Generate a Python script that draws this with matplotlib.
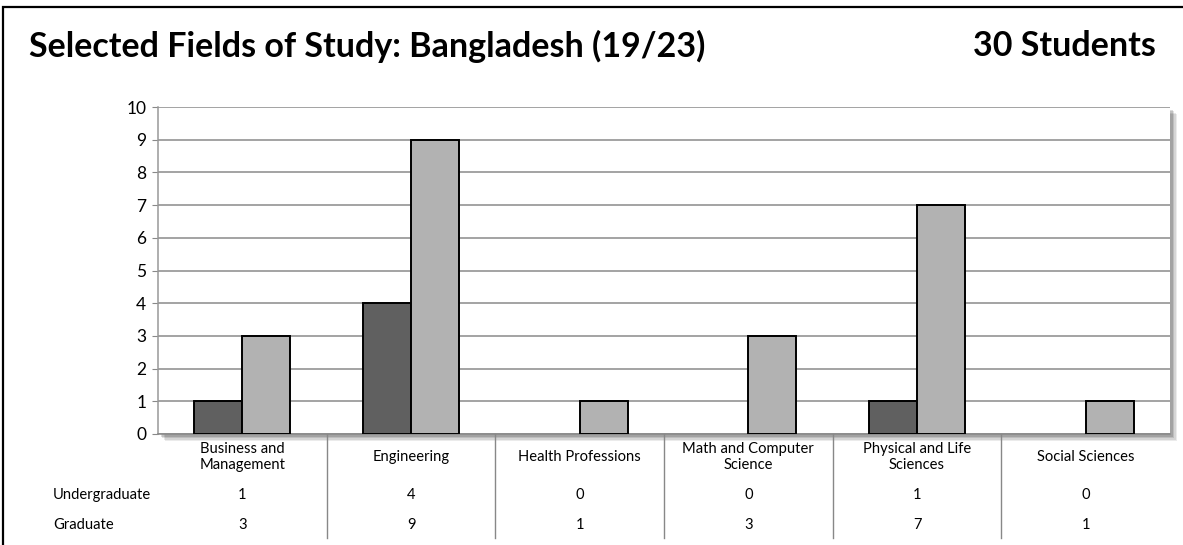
import matplotlib.pyplot as plt
from matplotlib.patches import Rectangle
from matplotlib.transforms import blended_transform_factory
import numpy as np

# данные
categories = ["Business and\nManagement", "Engineering", "Health Professions",
              "Math and Computer\nScience", "Physical and Life\nSciences", "Social Sciences"]
undergraduate = [1, 4, 0, 0, 1, 0]
graduate = [3, 9, 1, 3, 7, 1]
row_labels = ["Undergraduate", "Graduate"]
title = "Selected Fields of Study: Bangladesh (19/23)"
total_label = "30 Students"

W, H = 1183, 545
plt.rcParams['font.family'] = ['Lato', 'DejaVu Sans']

fig = plt.figure(figsize=(W / 100, H / 100), dpi=100)

# внешняя рамка
fig.patches.append(Rectangle((3 / W, -0.01), 1.02, (H - 7) / H + 0.01, transform=fig.transFigure,
                             fill=False, edgecolor='black', linewidth=1.6, zorder=0))

left, right, top, bottom = 158, 1170, 107, 434
ax = fig.add_axes([left / W, 1 - bottom / H, (right - left) / W, (bottom - top) / H])

# тень под областью построения
for k, a in enumerate([0.08, 0.09, 0.11, 0.14]):
    off = 7 - k * 1.5
    fig.patches.append(Rectangle(((left + off) / W, 1 - (bottom + off) / H),
                                 (right - left) / W, (bottom - top) / H,
                                 transform=fig.transFigure, color='black', alpha=a,
                                 linewidth=0, zorder=0.5))

x = np.arange(len(categories))
bw = 0.285
b1 = ax.bar(x - bw / 2, undergraduate, bw, color='#606060', edgecolor='black', linewidth=1.4, zorder=3)
b2 = ax.bar(x + bw / 2, graduate, bw, color='#b2b2b2', edgecolor='black', linewidth=1.4, zorder=3)
for bars, vals in [(b1, undergraduate), (b2, graduate)]:
    for b, v in zip(bars, vals):
        if v == 0:
            b.set_visible(False)

ax.set_xlim(-0.5, len(categories) - 0.5)
ax.set_ylim(0, 10)
ax.set_yticks(range(0, 11))
ax.tick_params(axis='y', labelsize=12.5, length=4.5, color='#888888', pad=4)
ax.set_xticks([])
ax.yaxis.grid(True, color='#8a8a8a', linewidth=1.1, zorder=0)
ax.set_facecolor('white')
for s in ['top', 'right']:
    ax.spines[s].set_visible(False)
ax.spines['left'].set_color('#999999')
ax.spines['bottom'].set_color('#888888')
ax.spines['left'].set_linewidth(1.1)
ax.spines['bottom'].set_linewidth(1.1)
ax.set_zorder(1)

# таблица данных под осью
fs = 10.6
tr = blended_transform_factory(ax.transData, fig.transFigure)
for i, cat in enumerate(categories):
    ax.text(i, 1 - 457 / H, cat, transform=tr, ha='center', va='center', fontsize=fs,
            linespacing=1.2, clip_on=False)
    ax.text(i, 1 - 495 / H, str(undergraduate[i]), transform=tr, ha='center', va='center',
            fontsize=fs, clip_on=False)
    ax.text(i, 1 - 525 / H, str(graduate[i]), transform=tr, ha='center', va='center',
            fontsize=fs, clip_on=False)
for i in range(1, len(categories)):
    ax.plot([i - 0.5, i - 0.5], [1 - 434 / H, 1 - 538 / H], transform=tr, color='#888888',
            linewidth=1, clip_on=False)
for r, yy in zip(row_labels, [495, 525]):
    fig.text(53 / W, 1 - yy / H, r, ha='left', va='center', fontsize=fs)

fig.text(29 / W, 1 - 46 / H, title, ha='left', va='center', fontsize=24.5, fontweight='bold')
fig.text(1156 / W, 1 - 46 / H, total_label, ha='right', va='center', fontsize=24.5, fontweight='bold')

fig.savefig('out.png', dpi=100)
